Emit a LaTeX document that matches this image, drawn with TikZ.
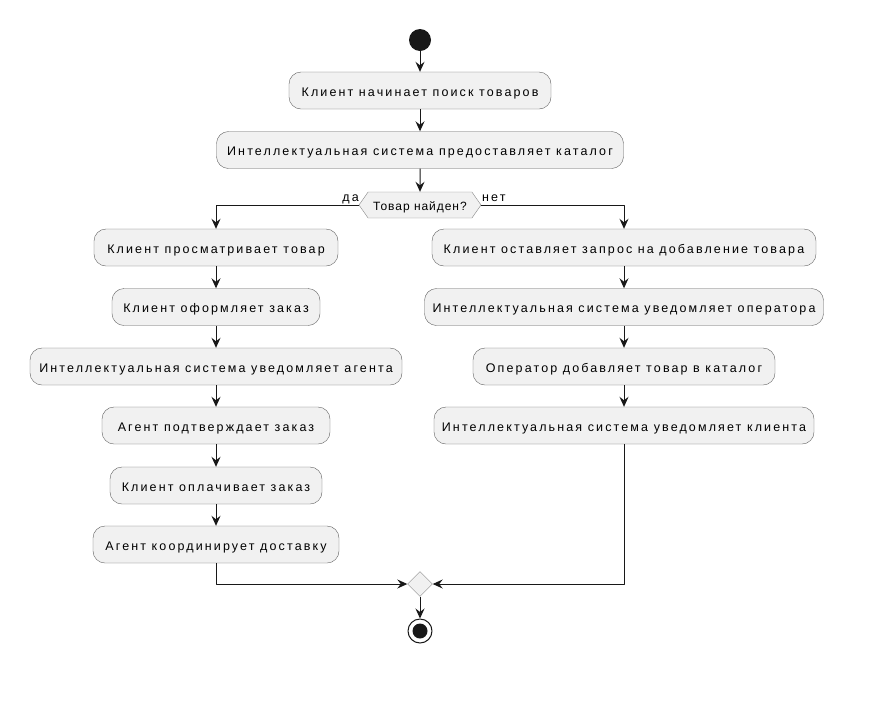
\documentclass[tikz,border=0pt]{standalone}
\usepackage{fontspec}
\setmainfont{Liberation Sans}
\newfontfamily\actfont[LetterSpace=17]{Liberation Sans}
\newfontfamily\decfont[LetterSpace=8]{Liberation Sans}
\usetikzlibrary{arrows.meta,shapes.geometric,shapes.symbols,positioning}
\definecolor{actbg}{HTML}{F1F1F1}
\definecolor{actline}{HTML}{5F5F5F}
\definecolor{decline}{HTML}{888888}
\definecolor{flowc}{HTML}{181818}

\begin{document}
\begin{tikzpicture}[x=1pt,y=-1pt,>={Stealth[length=10pt,width=9pt,inset=3.5pt]},line join=round]
  \tikzset{
    act/.style={draw=actline,fill=actbg,rounded corners=12pt,minimum height=37pt,
      minimum width=#1,inner sep=0pt,text height=12pt,text depth=1pt,
      font=\actfont\fontsize{12.5}{15}\selectfont},
    flow/.style={->,draw=flowc,line width=1pt},
    lbl/.style={inner sep=0pt,font=\actfont\fontsize{12.5}{15}\selectfont},
  }
  \useasboundingbox (0,0) rectangle (878,721);

  % start and the common part
  \node[circle,fill=flowc,minimum size=22pt,inner sep=0pt] (start) at (420,40) {};
  \node[act=262pt] (search) at (420,90.5) {Клиент начинает поиск товаров};
  \node[act=407pt] (catalog) at (420,150) {Интеллектуальная система предоставляет каталог};
  \node[signal,signal to=west and east,signal pointer angle=110,draw=decline,fill=actbg,
    minimum width=122pt,minimum height=26pt,inner sep=0pt,text height=10pt,text depth=0pt,
    font=\decfont\fontsize{12}{14}\selectfont] (found) at (420,205) {Товар найден?};
  \node[lbl,anchor=base east] (yes) at (359,201) {да};
  \node[lbl,anchor=base west] (no) at (482,201) {нет};

  % left branch
  \node[act=244pt] (view) at (216,247.5) {Клиент просматривает товар};
  \node[act=208pt] (order) at (216,307) {Клиент оформляет заказ};
  \node[act=372pt] (notagent) at (216,366.5) {Интеллектуальная система уведомляет агента};
  \node[act=228pt] (confirm) at (216,425.5) {Агент подтверждает заказ};
  \node[act=212pt] (pay) at (216,485.5) {Клиент оплачивает заказ};
  \node[act=246pt] (deliver) at (216,544.5) {Агент координирует доставку};

  % right branch
  \node[act=384pt] (request) at (624,247.5) {Клиент оставляет запрос на добавление товара};
  \node[act=399pt] (notoper) at (624,307) {Интеллектуальная система уведомляет оператора};
  \node[act=302pt] (addcat) at (624,366.5) {Оператор добавляет товар в каталог};
  \node[act=380pt] (notclient) at (624,425.5) {Интеллектуальная система уведомляет клиента};

  % merge and stop
  \node[diamond,draw=decline,fill=actbg,minimum size=25pt,inner sep=0pt] (merge) at (420,584) {};
  \node[circle,draw=flowc,line width=1pt,minimum size=24pt,inner sep=0pt] (stop) at (420,631) {};
  \node[circle,fill=flowc,minimum size=15pt,inner sep=0pt] at (stop) {};

  \draw[flow] (start) -- (search);
  \draw[flow] (search) -- (catalog);
  \draw[flow] (catalog) -- (found);
  \draw[flow] (found.west) -| (view);
  \draw[flow] (found.east) -| (request);
  \draw[flow] (view) -- (order);
  \draw[flow] (order) -- (notagent);
  \draw[flow] (notagent) -- (confirm);
  \draw[flow] (confirm) -- (pay);
  \draw[flow] (pay) -- (deliver);
  \draw[flow] (request) -- (notoper);
  \draw[flow] (notoper) -- (addcat);
  \draw[flow] (addcat) -- (notclient);
  \draw[flow] (deliver) |- (merge);
  \draw[flow] (notclient) |- (merge);
  \draw[flow] (merge) -- (stop);
\end{tikzpicture}
\end{document}
